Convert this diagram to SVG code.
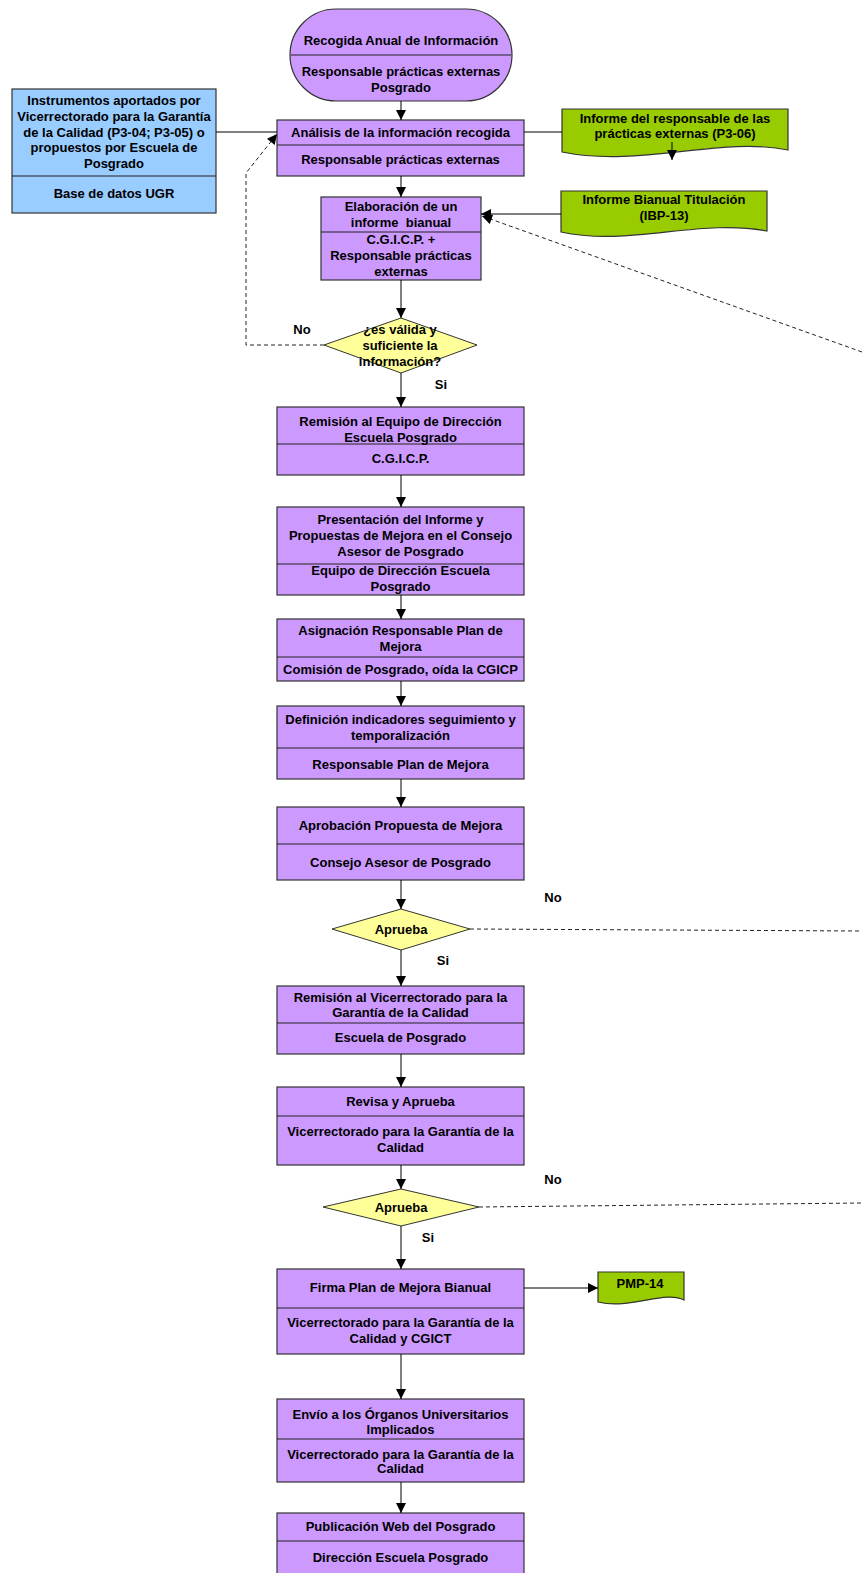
<svg xmlns="http://www.w3.org/2000/svg" width="862" height="1573" viewBox="0 0 862 1573">
<style>
text{font-family:"Liberation Sans",Arial,sans-serif;font-size:13px;font-weight:bold;fill:#000;text-anchor:middle}
.p{fill:#CC99FF;stroke:#333;stroke-width:1.2}
.b{fill:#99CCFF;stroke:#333;stroke-width:1.2}
.g{fill:#99CC00;stroke:#333;stroke-width:1.2}
.y{fill:#FFFF99;stroke:#333;stroke-width:1}
.d{stroke:#222;stroke-width:1.2;fill:none}
.c{stroke:#000;stroke-width:1;fill:none}
.a{marker-end:url(#ah)}
.dash{stroke:#222;stroke-width:1;fill:none;stroke-dasharray:4,3}
</style>
<defs>
<marker id="ah" viewBox="0 0 10 10" refX="10" refY="5" markerWidth="11" markerHeight="10" markerUnits="userSpaceOnUse" orient="auto">
<path d="M0,0 L10,5 L0,10 z" fill="#000"/>
</marker>
</defs>
<rect width="862" height="1573" fill="#fff"/>

<g id="n-recogida">
<path class="p" d="M336,9 H466 A46,46 0 0 1 466,101 H336 A46,46 0 0 1 336,9 Z"/>
<line class="d" x1="291" y1="55" x2="511" y2="55"/>
<text x="401" y="44.5">Recogida Anual de Información</text>
<text x="401" y="75.5">Responsable prácticas externas</text>
<text x="401" y="91.5">Posgrado</text>
</g>

<g id="n-instrumentos">
<rect class="b" x="12" y="89" width="204" height="124"/>
<line class="d" x1="12" y1="176" x2="216" y2="176"/>
<text x="114" y="105">Instrumentos aportados por</text>
<text x="114" y="121">Vicerrectorado para la Garantía</text>
<text x="114" y="136.5">de la Calidad (P3-04; P3-05) o</text>
<text x="114" y="152">propuestos por Escuela de</text>
<text x="114" y="167.5">Posgrado</text>
<text x="114" y="197.5">Base de datos UGR</text>
</g>

<g id="n-analisis">
<rect class="p" x="277" y="120" width="247" height="56"/>
<line class="d" x1="277" y1="145" x2="524" y2="145"/>
<text x="400.5" y="136.5">Análisis de la información recogida</text>
<text x="400.5" y="163.5">Responsable prácticas externas</text>
</g>

<g id="n-informe-responsable">
<path class="g" d="M562,109 H788 V150 C720,136 640,168 562,152 Z"/>
<text x="675" y="122.5">Informe del responsable de las</text>
<text x="675" y="137.5">prácticas externas (P3-06)</text>
</g>

<g id="n-informe-bianual-tit">
<path class="g" d="M561,191 H767 V231 C700,218 630,247 561,232 Z"/>
<text x="664" y="203.5">Informe Bianual Titulación</text>
<text x="664" y="219.5">(IBP-13)</text>
</g>

<g id="n-elaboracion">
<rect class="p" x="321" y="197" width="160" height="83"/>
<line class="d" x1="321" y1="232" x2="481" y2="232"/>
<text x="401" y="210.5">Elaboración de un</text>
<text x="401" y="226.5" xml:space="preserve">informe  bianual</text>
<text x="401" y="243.5">C.G.I.C.P. +</text>
<text x="401" y="259.5">Responsable prácticas</text>
<text x="401" y="275.5">externas</text>
</g>

<g id="n-valida">
<polygon class="y" points="401,318 477,345 401,373 324,345"/>
<text x="400" y="333.5">¿es válida y</text>
<text x="400" y="349.5">suficiente la</text>
<text x="400" y="365.5">información?</text>
<text x="302" y="333.5">No</text>
<text x="441" y="388.5">Si</text>
</g>

<g id="n-remision-equipo">
<rect class="p" x="277" y="407" width="247" height="68"/>
<line class="d" x1="277" y1="444" x2="524" y2="444"/>
<text x="400.5" y="425.5">Remisión al Equipo de Dirección</text>
<text x="400.5" y="441.5">Escuela Posgrado</text>
<text x="400.5" y="462.5">C.G.I.C.P.</text>
</g>

<g id="n-presentacion">
<rect class="p" x="277" y="507" width="247" height="88"/>
<line class="d" x1="277" y1="564" x2="524" y2="564"/>
<text x="400.5" y="523.5">Presentación del Informe y</text>
<text x="400.5" y="539.5">Propuestas de Mejora en el Consejo</text>
<text x="400.5" y="555.5">Asesor de Posgrado</text>
<text x="400.5" y="575">Equipo de Dirección Escuela</text>
<text x="400.5" y="591">Posgrado</text>
</g>

<g id="n-asignacion">
<rect class="p" x="277" y="619" width="247" height="62"/>
<line class="d" x1="277" y1="657" x2="524" y2="657"/>
<text x="400.5" y="634.5">Asignación Responsable Plan de</text>
<text x="400.5" y="650.5">Mejora</text>
<text x="400.5" y="674">Comisión de Posgrado, oída la CGICP</text>
</g>

<g id="n-definicion">
<rect class="p" x="277" y="706" width="247" height="73"/>
<line class="d" x1="277" y1="748" x2="524" y2="748"/>
<text x="400.5" y="723.5">Definición indicadores seguimiento y</text>
<text x="400.5" y="739.5">temporalización</text>
<text x="400.5" y="768.5">Responsable Plan de Mejora</text>
</g>

<g id="n-aprobacion">
<rect class="p" x="277" y="807" width="247" height="73"/>
<line class="d" x1="277" y1="844" x2="524" y2="844"/>
<text x="400.5" y="829.5">Aprobación Propuesta de Mejora</text>
<text x="400.5" y="866.5">Consejo Asesor de Posgrado</text>
</g>

<g id="n-aprueba1">
<polygon class="y" points="401,909 470,929 401,950 332,929"/>
<text x="401" y="933.5">Aprueba</text>
<text x="553" y="901.5">No</text>
<text x="443" y="964.5">Si</text>
</g>

<g id="n-remision-vicerrectorado">
<rect class="p" x="277" y="986" width="247" height="68"/>
<line class="d" x1="277" y1="1023" x2="524" y2="1023"/>
<text x="400.5" y="1002">Remisión al Vicerrectorado para la</text>
<text x="400.5" y="1017">Garantía de la Calidad</text>
<text x="400.5" y="1041.5">Escuela de Posgrado</text>
</g>

<g id="n-revisa">
<rect class="p" x="277" y="1087" width="247" height="78"/>
<line class="d" x1="277" y1="1116" x2="524" y2="1116"/>
<text x="400.5" y="1105.5">Revisa y Aprueba</text>
<text x="400.5" y="1135.5">Vicerrectorado para la Garantía de la</text>
<text x="400.5" y="1151.5">Calidad</text>
</g>

<g id="n-aprueba2">
<polygon class="y" points="401,1189 479,1207 401,1226 323,1207"/>
<text x="401" y="1211.5">Aprueba</text>
<text x="553" y="1183.5">No</text>
<text x="428" y="1241.5">Si</text>
</g>

<g id="n-firma">
<rect class="p" x="277" y="1269" width="247" height="85"/>
<line class="d" x1="277" y1="1308" x2="524" y2="1308"/>
<text x="400.5" y="1291.5">Firma Plan de Mejora Bianual</text>
<text x="400.5" y="1327">Vicerrectorado para la Garantía de la</text>
<text x="400.5" y="1342.5">Calidad y CGICT</text>
</g>

<g id="n-pmp14">
<path class="g" d="M598,1272 H684 V1300 C665,1290 630,1310 598,1302 Z"/>
<text x="640" y="1287.5">PMP-14</text>
</g>

<g id="n-envio">
<rect class="p" x="277" y="1399" width="247" height="83"/>
<line class="d" x1="277" y1="1439" x2="524" y2="1439"/>
<text x="400.5" y="1418.5">Envío a los Órganos Universitarios</text>
<text x="400.5" y="1433.5">Implicados</text>
<text x="400.5" y="1458.5">Vicerrectorado para la Garantía de la</text>
<text x="400.5" y="1472.5">Calidad</text>
</g>

<g id="n-publicacion">
<rect class="p" x="277" y="1513" width="247" height="70"/>
<line class="d" x1="277" y1="1541" x2="524" y2="1541"/>
<text x="400.5" y="1530.5">Publicación Web del Posgrado</text>
<text x="400.5" y="1561.5">Dirección Escuela Posgrado</text>
</g>

<g id="connectors">
<line class="c a" x1="401" y1="101" x2="401" y2="120"/>
<line class="c" x1="216" y1="132" x2="277" y2="132"/>
<line class="c" x1="524" y1="132" x2="562" y2="132"/>
<line class="c a" x1="672" y1="142" x2="672" y2="160"/>
<line class="c a" x1="401" y1="176" x2="401" y2="197"/>
<line class="c a" x1="561" y1="214" x2="481" y2="214"/>
<path class="dash a" d="M862,352 L482,216"/>
<line class="c a" x1="401" y1="280" x2="401" y2="318"/>
<path class="dash a" d="M324,345 H246 V173 L277,134"/>
<line class="c a" x1="401" y1="373" x2="401" y2="407"/>
<line class="c a" x1="401" y1="475" x2="401" y2="507"/>
<line class="c a" x1="401" y1="595" x2="401" y2="619"/>
<line class="c a" x1="401" y1="681" x2="401" y2="706"/>
<line class="c a" x1="401" y1="779" x2="401" y2="807"/>
<line class="c a" x1="401" y1="880" x2="401" y2="909"/>
<line class="dash" x1="470" y1="929" x2="862" y2="931"/>
<line class="c a" x1="401" y1="950" x2="401" y2="986"/>
<line class="c a" x1="401" y1="1054" x2="401" y2="1087"/>
<line class="c a" x1="401" y1="1165" x2="401" y2="1189"/>
<line class="dash" x1="479" y1="1207" x2="862" y2="1203"/>
<line class="c a" x1="401" y1="1226" x2="401" y2="1269"/>
<line class="c a" x1="524" y1="1288" x2="598" y2="1288"/>
<line class="c a" x1="401" y1="1354" x2="401" y2="1399"/>
<line class="c a" x1="401" y1="1482" x2="401" y2="1513"/>
</g>
</svg>
